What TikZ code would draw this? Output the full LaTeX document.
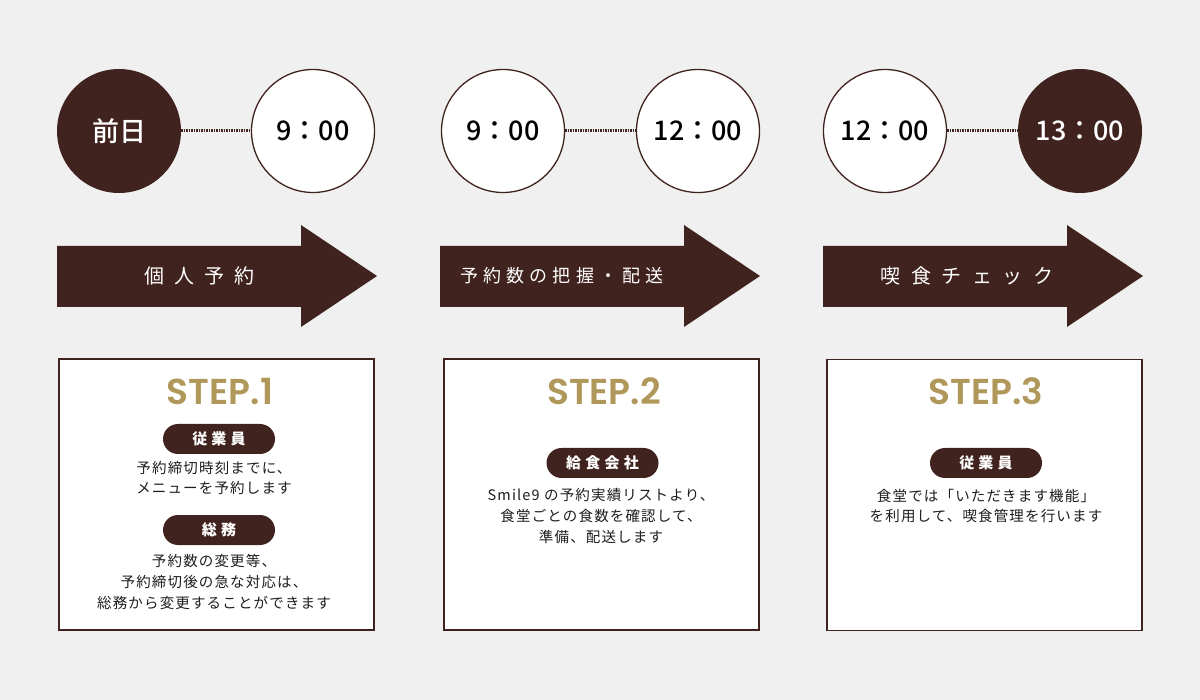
\documentclass[tikz,border=0pt]{standalone}
\usepackage{fontspec}
\setmainfont{Noto Sans CJK JP}
\newfontfamily\jp{Noto Sans CJK JP}
\newfontfamily\jpm{Noto Sans CJK JP Medium}
\newfontfamily\stepfont{Poppins}[BoldFont={Poppins SemiBold}]
\definecolor{brn}{RGB}{64,35,30}
\definecolor{gold}{RGB}{176,152,90}
\definecolor{bg}{RGB}{240,240,240}
\definecolor{txt}{RGB}{30,30,30}
\tikzset{
  darkcirc/.style={circle,fill=brn,minimum size=124pt,inner sep=0pt,text=white,
    font=\jpm\fontsize{27}{30}\selectfont},
  whitecirc/.style={circle,fill=white,draw=brn,line width=1.3pt,minimum size=123pt,inner sep=0pt,text=black,
    font=\jpm\fontsize{27}{30}\selectfont},
  dotline/.style={draw=brn,line width=3pt,dash pattern=on 1.5pt off 1pt},
  arrowshape/.style={fill=brn},
  arrowtext/.style={text=white,inner sep=0pt},
  stepbox/.style={draw=brn,fill=white,line width=1.3pt,minimum width=315pt,minimum height=271pt,inner sep=0pt},
  steptitle/.style={text=gold,anchor=base,inner sep=0pt,font=\stepfont\bfseries\fontsize{36}{40}\selectfont},
  pill/.style={fill=brn,rounded corners=15pt,minimum width=112pt,minimum height=30pt,inner sep=0pt,text=white,
    font=\jp\bfseries\fontsize{15}{18}\selectfont\addfontfeature{LetterSpace=28}},
  bodytext/.style={text=txt,align=center,inner sep=0pt,
    font=\jp\fontsize{14.5}{20.8}\selectfont\addfontfeature{LetterSpace=8}},
}
\begin{document}
\begin{tikzpicture}[x=1pt,y=-1pt]
\useasboundingbox[fill=bg] (0,0) rectangle (1200,700);

% time circles
\node[darkcirc]  (c1) at (119,131) {前日};
\node[whitecirc] (c2) at (313,131) {9：00};
\node[whitecirc] (c3) at (503,131) {9：00};
\node[whitecirc] (c4) at (698,131) {12：00};
\node[whitecirc] (c5) at (885,131) {12：00};
\node[darkcirc]  (c6) at (1080,131) {13：00};
\draw[dotline] (c1) -- (c2);
\draw[dotline] (c3) -- (c4);
\draw[dotline] (c5) -- (c6);

% arrows
\fill[arrowshape] (57,246) -- (301,246) -- (301,225) -- (377,276) -- (301,327) -- (301,307) -- (57,307) -- cycle;
\fill[arrowshape] (440,246) -- (684,246) -- (684,225) -- (760,276) -- (684,327) -- (684,307) -- (440,307) -- cycle;
\fill[arrowshape] (823,246) -- (1067,246) -- (1067,225) -- (1143,276) -- (1067,327) -- (1067,307) -- (823,307) -- cycle;
\node[arrowtext,font=\jp\fontsize{20}{24}\selectfont\addfontfeature{LetterSpace=50}] (a1) at (199,276) {個人予約};
\node[arrowtext,font=\jp\fontsize{18}{22}\selectfont\addfontfeature{LetterSpace=28}] (a2) at (562,276) {予約数の把握・配送};
\node[arrowtext,font=\jp\fontsize{20}{24}\selectfont\addfontfeature{LetterSpace=53}] (a3) at (967,276) {喫食チェック};

% step boxes
\node[stepbox] (b1) at (216.5,494.5) {};
\node[stepbox] (b2) at (601.5,494.5) {};
\node[stepbox] (b3) at (984.5,495) {};

\node[steptitle] (s1) at (220,405) {STEP.1};
\node[steptitle] (s2) at (604,405) {STEP.2};
\node[steptitle] (s3) at (986,405) {STEP.3};

% box 1
\node[pill] (p1) at (219,439) {従業員};
\node[bodytext] (t1) at (214,478) {予約締切時刻までに、\\メニューを予約します};
\node[pill] (p2) at (219,530) {総務};
\node[bodytext] (t2) at (214,582) {予約数の変更等、\\予約締切後の急な対応は、\\総務から変更することができます};

% box 2
\node[pill] (p3) at (602.5,463) {給食会社};
\node[bodytext] (t3) at (601,516) {Smile9 の予約実績リストより、\\食堂ごとの食数を確認して、\\準備、配送します};

% box 3
\node[pill] (p4) at (986,463) {従業員};
\node[bodytext] (t4) at (986,506) {食堂では「いただきます機能」\\を利用して、喫食管理を行います};
\end{tikzpicture}
\end{document}
